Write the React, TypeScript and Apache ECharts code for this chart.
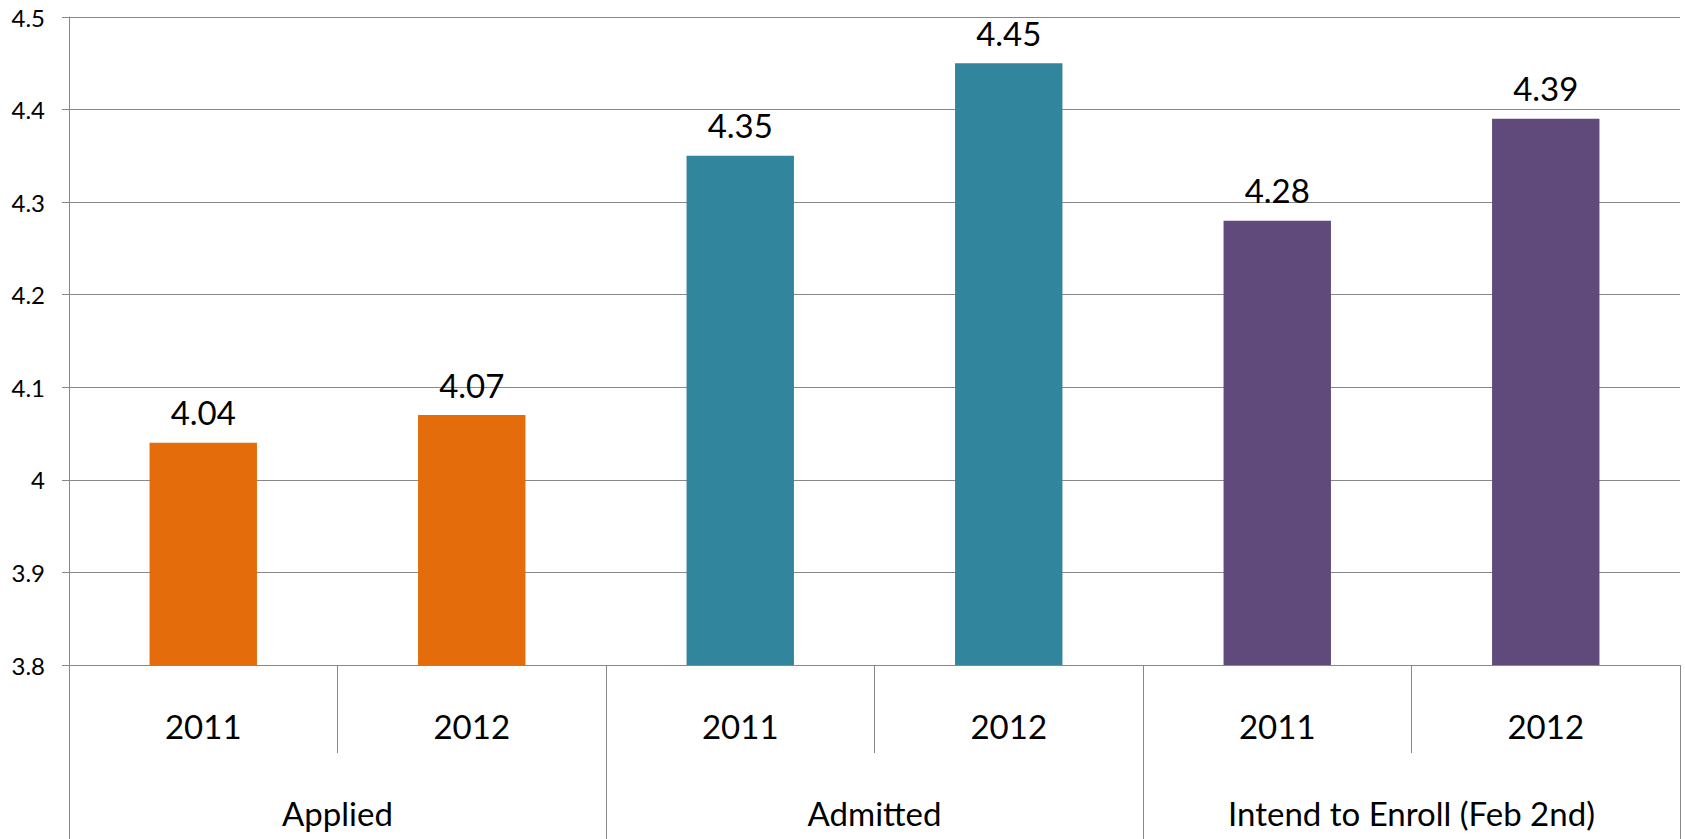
import React, { useEffect, useRef } from "react";
import * as echarts from "echarts";

const years = ["2011", "2012", "2011", "2012", "2011", "2012"];
const groups = ["Applied", "Admitted", "Intend to Enroll (Feb 2nd)"];
const values = [4.04, 4.07, 4.35, 4.45, 4.28, 4.39];
const groupColors = ["#E46C0A", "#31859C", "#604A7B"];
const yTicks = { min: 3.8, max: 4.5, interval: 0.1 };

const FONT = "Lato, 'Noto Sans', sans-serif";
const GRAY = "#888888";

export default function App() {
  const ref = useRef<HTMLDivElement>(null);
  useEffect(() => {
    if (!ref.current) return;
    const chart = echarts.init(ref.current, null, { renderer: "svg" });
    const option = {
      animation: false,
      backgroundColor: "#ffffff",
      textStyle: { fontFamily: FONT },
      grid: { left: 69, right: 5, top: 17, bottom: 174, containLabel: false },
      xAxis: [
        {
          type: "category",
          data: years,
          position: "bottom",
          boundaryGap: true,
          axisLine: { show: true, lineStyle: { color: GRAY, width: 1 } },
          axisTick: { show: true, interval: 0, length: 88, lineStyle: { color: GRAY, width: 1 } },
          axisLabel: { interval: 0, margin: 44, fontSize: 33, color: "#000", fontFamily: FONT },
        },
        {
          type: "category",
          data: groups,
          position: "bottom",
          boundaryGap: true,
          axisLine: { show: false },
          axisTick: { show: true, interval: 0, length: 174, lineStyle: { color: GRAY, width: 1 } },
          axisLabel: { interval: 0, margin: 131, fontSize: 33, color: "#000", fontFamily: FONT },
        },
      ],
      yAxis: {
        type: "value",
        min: yTicks.min,
        max: yTicks.max,
        interval: yTicks.interval,
        axisLine: { show: true, lineStyle: { color: GRAY, width: 1 } },
        axisTick: { show: true, length: 7, lineStyle: { color: GRAY, width: 1 } },
        splitLine: { show: true, lineStyle: { color: GRAY, width: 1 } },
        axisLabel: {
          margin: 24,
          fontSize: 24,
          color: "#000",
          fontFamily: FONT,
          formatter: (v: number) => String(Math.round(v * 10) / 10),
        },
      },
      series: [
        {
          type: "bar",
          xAxisIndex: 0,
          barWidth: "40%",
          data: values.map((v, i) => ({
            value: v,
            itemStyle: { color: groupColors[Math.floor(i / 2)] },
          })),
          label: {
            show: true,
            position: "top",
            distance: 14,
            fontSize: 33,
            color: "#000",
            fontFamily: FONT,
            formatter: (p: any) => p.value.toFixed(2),
          },
        },
      ],
    };
    chart.setOption(option);
    return () => chart.dispose();
  }, []);
  return (
    <div
      ref={ref}
      style={{ position: "absolute", left: 0, top: 0, width: 1685, height: 839, background: "#fff" }}
    />
  );
}
